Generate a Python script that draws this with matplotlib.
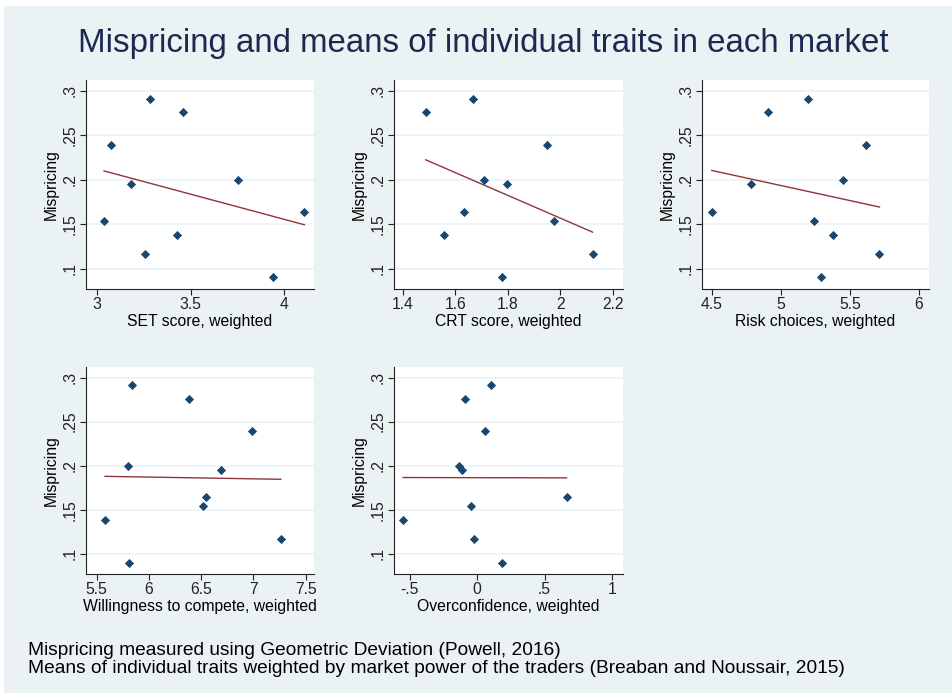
import numpy as np
import matplotlib
matplotlib.use("Agg")
import matplotlib.pyplot as plt
from matplotlib.patches import Rectangle
from matplotlib.ticker import FuncFormatter

plt.rcParams['font.family'] = ['Liberation Sans', 'DejaVu Sans']

# ============= data (10 markets) =============
mispricing = [0.154, 0.239, 0.195, 0.1165, 0.291, 0.138, 0.276, 0.200, 0.090, 0.164]

set_score = [3.039, 3.078, 3.181, 3.256, 3.284, 3.428, 3.458, 3.751, 3.941, 4.107]
crt_score = [1.977, 1.948, 1.797, 2.122, 1.668, 1.558, 1.487, 1.710, 1.776, 1.631]
risk_choices = [5.240, 5.620, 4.784, 5.714, 5.195, 5.380, 4.906, 5.450, 5.288, 4.502]
compete = [6.514, 6.990, 6.693, 7.261, 5.838, 5.580, 6.384, 5.803, 5.813, 6.546]
overconf = [-0.044, 0.060, -0.113, -0.027, 0.100, -0.550, -0.091, -0.133, 0.187, 0.663]

x_labels = ["SET score, weighted", "CRT score, weighted", "Risk choices, weighted",
            "Willingness to compete, weighted", "Overconfidence, weighted"]
x_ticks = [[3, 3.5, 4], [1.4, 1.6, 1.8, 2, 2.2], [4.5, 5, 5.5, 6],
           [5.5, 6, 6.5, 7, 7.5], [-0.5, 0, 0.5, 1]]
y_ticks = [0.1, 0.15, 0.2, 0.25, 0.3]

title = "Mispricing and means of individual traits in each market"
notes = ["Mispricing measured using Geometric Deviation (Powell, 2016)",
         "Means of individual traits weighted by market power of the traders (Breaban and Noussair, 2015)"]

# ============= layout (pixels) =============
W, H = 952, 693
BG = '#eaf2f3'
NAVY = '#1a476f'
MAROON = '#90353b'

# left, right, top, bottom in pixels, plus x limits
boxes = [(86, 314, 80, 289, (2.943, 4.158)),
         (394, 623, 80, 289, (1.366, 2.238)),
         (702, 929, 80, 289, (4.431, 6.072)),
         (86, 314, 367, 574, (5.398, 7.579)),
         (394, 623, 367, 574, (-0.617, 1.082))]
xs = [set_score, crt_score, risk_choices, compete, overconf]


def stata_fmt(v, pos):
    s = f"{v:g}"
    if s.startswith("0."):
        s = s[1:]
    elif s.startswith("-0."):
        s = "-" + s[2:]
    return s


fig = plt.figure(figsize=(W / 100, H / 100), dpi=100, facecolor='white')
fig.patches.append(Rectangle((4 / W, 0), 1 - 4 / W, 1 - 6 / H, transform=fig.transFigure,
                             facecolor=BG, edgecolor='none', zorder=-10))

fig.text(483 / W, 1 - 52 / H, title, ha='center', va='baseline', fontsize=23.8, color='#1c2a50')

for i, (l, r, t, b, xlim) in enumerate(boxes):
    ax = fig.add_axes([l / W, 1 - b / H, (r - l) / W, (b - t) / H])
    ax.set_facecolor('white')
    x = np.array(xs[i])
    y = np.array(mispricing)
    ax.scatter(x, y, marker='D', s=22, color=NAVY, zorder=3, linewidths=0)
    # linear fit over the data range
    k, c = np.polyfit(x, y, 1)
    xx = np.array([x.min(), x.max()])
    ax.plot(xx, k * xx + c, color=MAROON, lw=1.0, zorder=2)

    ax.set_xlim(*xlim)
    ax.set_ylim(0.077, 0.312)
    ax.set_xticks(x_ticks[i])
    ax.set_yticks(y_ticks)
    ax.xaxis.set_major_formatter(FuncFormatter(stata_fmt))
    ax.yaxis.set_major_formatter(FuncFormatter(stata_fmt))
    ax.grid(axis='y', color=BG, lw=1.2, zorder=0)
    ax.set_axisbelow(True)
    for s in ['top', 'right']:
        ax.spines[s].set_visible(False)
    for s in ['left', 'bottom']:
        ax.spines[s].set_color('#222222')
        ax.spines[s].set_linewidth(0.8)
    ax.tick_params(direction='out', length=4, width=0.8, colors='#222222', labelsize=11.3, pad=2)
    for lab in ax.get_yticklabels():
        lab.set_rotation(90)
        lab.set_va('center')
    ax.set_xlabel(x_labels[i], fontsize=11.3, labelpad=1)
    ax.set_ylabel("Mispricing", fontsize=11.3, labelpad=3)

fig.text(28 / W, 1 - 655 / H, notes[0], ha='left', va='baseline', fontsize=13.8)
fig.text(28 / W, 1 - 673 / H, notes[1], ha='left', va='baseline', fontsize=13.8)

fig.savefig("out.png", dpi=100, facecolor=fig.get_facecolor())
